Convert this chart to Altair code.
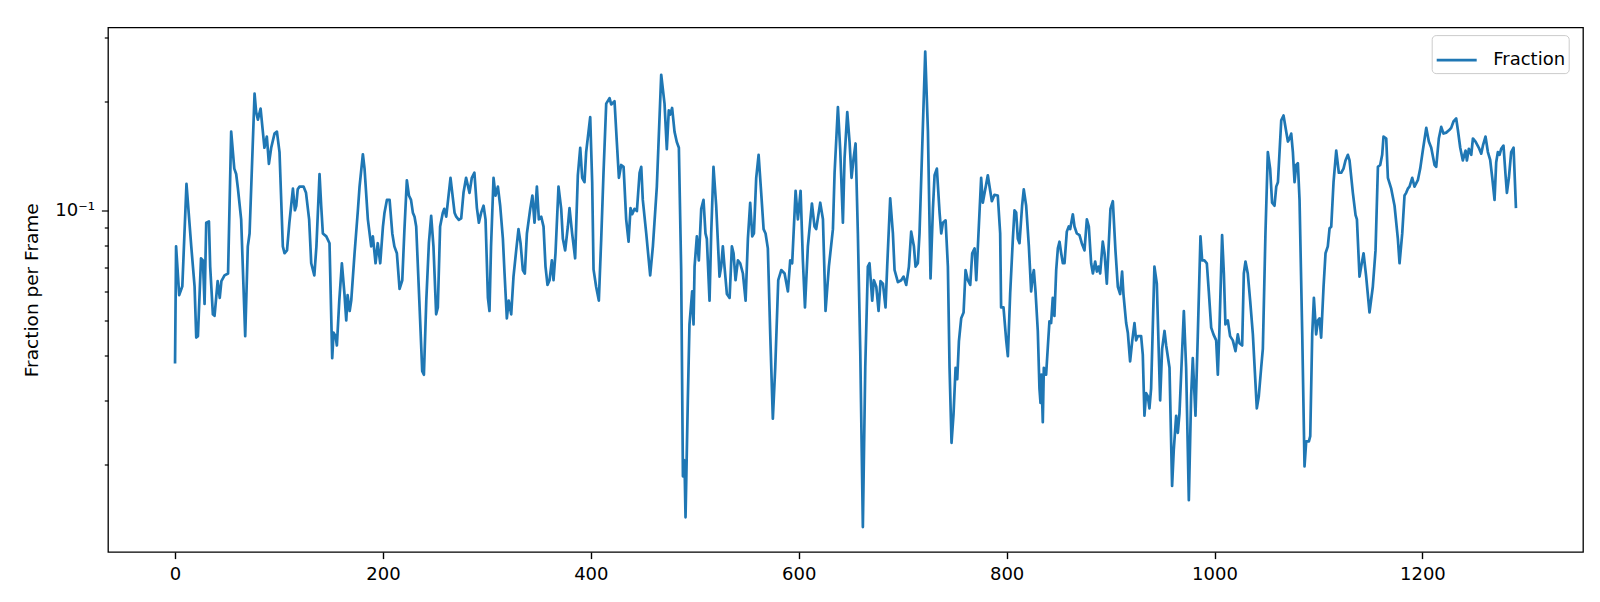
import altair as alt
import pandas as pd

# ---- data (frame, fraction per frame) ----
frames_1 = [0, 1, 4, 7, 11, 15.6, 18.8, 20.4, 22, 25, 26.8, 28.4, 30, 32.6, 33.8, 36.4, 38, 41, 43, 44.6,
            47.6, 51, 54, 57, 58.8, 60.5, 63.6, 67.5, 70, 71.7, 76.5, 78, 79.7, 82.3, 86, 88.3, 90.3, 92.5,
            95.7, 98, 100.5, 103.7, 105.3, 107.7, 110, 113.4, 115.3, 116.6, 118, 119.8, 123.6, 126, 129, 131,
            134, 136, 139, 140.6, 142.2, 145.5, 148.6, 151.2, 152.5, 154.4, 155.7, 158, 160.5, 163, 164.7,
            166, 168, 169.5, 172.7, 175.9, 177.5, 180.7, 182.3, 185.5, 188.7, 190.3, 192.9, 195, 197.4, 200,
            201.5, 203.8, 206.4, 209, 211, 213.4, 216, 218.6, 220.7, 223, 225, 227, 228.8, 230.4, 232, 235,
            237.8, 239.4, 241.7, 244.2, 246.4, 248.6, 251.2, 252.8, 255, 257.6, 259, 260.9, 265]
fraction_1 = [0.038, 0.0798, 0.0586, 0.062, 0.1185, 0.0798, 0.0618, 0.0448, 0.0452, 0.074, 0.073, 0.0554,
              0.0927, 0.0934, 0.0702, 0.0519, 0.0514, 0.064, 0.0576, 0.064, 0.0664, 0.0672, 0.165, 0.1306,
              0.1262, 0.115, 0.0947, 0.0452, 0.0798, 0.0866, 0.21, 0.187, 0.178, 0.191, 0.149, 0.16, 0.1346,
              0.149, 0.163, 0.165, 0.145, 0.0798, 0.0764, 0.0778, 0.0927, 0.115, 0.1003, 0.1032, 0.1145,
              0.1165, 0.1165, 0.112, 0.0947, 0.0717, 0.0664, 0.0798, 0.1262, 0.1032, 0.0866, 0.085, 0.0814,
              0.0393, 0.0462, 0.0452, 0.0426, 0.0566, 0.0717, 0.059, 0.0499, 0.0586, 0.053, 0.0566, 0.0764,
              0.1003, 0.1165, 0.143, 0.1306, 0.0947, 0.0798, 0.085, 0.0717, 0.0814, 0.0717, 0.0904, 0.0988,
              0.1071, 0.1071, 0.0866, 0.0798, 0.0764, 0.061, 0.0644, 0.089, 0.1213, 0.1101, 0.1071, 0.0988,
              0.0963, 0.0905, 0.0566, 0.0362, 0.0354, 0.0566, 0.0814, 0.0968, 0.0798, 0.0519, 0.0542, 0.0905,
              0.0988, 0.1012, 0.0963, 0.1232]

frames_2 = [268.9, 270.5, 273, 275.3, 277.5, 280, 283.3, 285.5, 288, 290.4, 292.3, 294.5, 296.8, 298.7, 301,
            302.5, 304, 306.4, 308.3, 310.6, 312.8, 315.4, 317, 319.2, 321, 323.4, 325.6, 328.2, 330.4, 332.4,
            334.6, 336.5, 338.5, 341.7, 343.8, 345.8, 348.1, 350, 352.3, 354.5, 356.4, 358.3, 360.3, 362.5,
            364.1, 366, 368.9, 371.5, 373.1, 375.3, 377.9, 379.5, 382, 384.9, 387.5, 389.8, 391.7, 393.9,
            395.5, 399.4, 401.3, 402.6, 405.1, 407.7, 410, 412.2, 414.8, 418, 419.6, 422.8, 425, 427, 429.2,
            431.5, 434, 436.3, 438.2, 439.8, 442, 444.3, 446.9, 448.5, 450, 453.3, 457.1, 459.7, 463.5, 467.7,
            470.9, 473.1, 475, 476.3, 478.2, 480.5, 482.7, 484.7, 486.9, 488.6, 490.1, 491.1, 493.3, 494.9,
            497.5, 498.8, 499.8, 502, 503.9, 506.2, 508.4, 510.3, 511.6, 514.2, 515.8, 518, 520.6, 523.8]
fraction_2 = [0.0988, 0.0963, 0.0944, 0.0953, 0.112, 0.1232, 0.112, 0.1232, 0.1272, 0.1017, 0.0927, 0.0988,
              0.1032, 0.0947, 0.0576, 0.053, 0.0798, 0.1232, 0.1101, 0.1165, 0.1032, 0.0837, 0.0672, 0.0506,
              0.0566, 0.0519, 0.0659, 0.0778, 0.089, 0.0814, 0.0687, 0.0672, 0.0866, 0.1012, 0.1101, 0.0927,
              0.1165, 0.0947, 0.0963, 0.0904, 0.0702, 0.0625, 0.0644, 0.073, 0.0644, 0.0764, 0.1165, 0.1012,
              0.0837, 0.0778, 0.0905, 0.1017, 0.0866, 0.074, 0.1252, 0.149, 0.1232, 0.1198, 0.145, 0.181,
              0.1198, 0.069, 0.0618, 0.0566, 0.0837, 0.1272, 0.197, 0.204, 0.196, 0.2, 0.1546, 0.1232, 0.1336,
              0.1321, 0.0947, 0.0822, 0.1017, 0.0978, 0.1012, 0.0998, 0.1272, 0.1321, 0.1071, 0.0866, 0.0664,
              0.0798, 0.1165, 0.2366, 0.197, 0.1476, 0.1887, 0.1838, 0.1917, 0.165, 0.1546, 0.149, 0.069,
              0.0186, 0.0206, 0.01435, 0.030, 0.0487, 0.06, 0.0487, 0.0702, 0.085, 0.073, 0.1012, 0.1071,
              0.0866, 0.0837, 0.0566, 0.0866, 0.1321, 0.1032, 0.0659]

frames_3 = [525.4, 527, 528.6, 530.9, 533.5, 535.7, 537.3, 539.2, 541.5, 543.7, 546.3, 548.9, 551.1, 553.3,
            555.3, 556.9, 559.1, 561.4, 563.9, 566.2, 568.1, 570.3, 572.6, 575.1, 577.4, 580.3, 583.2, 586.4,
            589.6, 591.8, 593.7, 597, 599.2, 601.8, 604, 606, 608.8, 612.7, 615.2, 616.8, 620.7, 623.3, 625.8,
            629, 632.9, 634.5, 637.7, 639.9, 642.5, 644.1, 646.7, 648.9, 650.8, 652.8, 654.7, 656.9, 659.2,
            661.7, 664, 666.5, 668.1, 670.7, 672.3, 674.6, 676.8, 678.7, 681, 683.5, 685.1, 688, 690.6, 692.2,
            695.4, 698.6, 700.9, 703.4, 706, 708.2, 710.8, 712.4, 714.6, 716.2, 721.7, 724.3, 726.8, 729.1,
            730.7, 732.9, 735.5, 737.1, 738.7, 741.3, 743.5, 745.1, 747, 748.9, 750.9, 752.5, 754.1, 756.3,
            758.6, 760.5, 762.7, 765, 766.9, 769.2, 770.8, 775.5]
fraction_3 = [0.0702, 0.0798, 0.0702, 0.059, 0.0576, 0.0798, 0.0764, 0.0644, 0.073, 0.0717, 0.0672, 0.0566,
              0.0837, 0.1052, 0.085, 0.0866, 0.1232, 0.1425, 0.112, 0.089, 0.0866, 0.0788, 0.0457, 0.0268,
              0.037, 0.0644, 0.0687, 0.0672, 0.06, 0.073, 0.0717, 0.1135, 0.0947, 0.1135, 0.073, 0.0542,
              0.0798, 0.1047, 0.0905, 0.089, 0.1052, 0.0947, 0.053, 0.0702, 0.089, 0.1272, 0.1927, 0.1476,
              0.0927, 0.1395, 0.1867, 0.1546, 0.1232, 0.1395, 0.1531, 0.0866, 0.0411, 0.01349, 0.037, 0.0702,
              0.0717, 0.0566, 0.0644, 0.0618, 0.053, 0.064, 0.063, 0.0542, 0.0702, 0.1081, 0.0866, 0.0687,
              0.0636, 0.0644, 0.0659, 0.0625, 0.0702, 0.0876, 0.0798, 0.0702, 0.0717, 0.0866, 0.274, 0.165,
              0.0651, 0.1012, 0.1252, 0.1306, 0.0988, 0.0866, 0.0927, 0.0941, 0.0702, 0.037, 0.023, 0.0275,
              0.037, 0.0344, 0.0437, 0.0506, 0.0525, 0.0687, 0.0644, 0.0625, 0.0764, 0.0788, 0.0644, 0.1232]

frames_4 = [777.1, 781.9, 783.5, 785.8, 788.3, 791.5, 793.8, 794.7, 797, 799.6, 801.2, 803.4, 806, 807.6,
            809.2, 810.8, 812.4, 814.9, 816.5, 818.8, 821.4, 823.6, 825.2, 826.2, 827.8, 830, 831.6, 832.6,
            833.5, 834.8, 835.8, 838, 839.6, 841.2, 842.8, 844.4, 846, 847.7, 849.3, 850.9, 852.5, 854.1,
            855.7, 857.9, 859.8, 861.1, 863.7, 865.3, 867.5, 870.1, 872.3, 874.9, 877.2, 879.1, 881.3, 883,
            885.2, 886.8, 888.4, 890, 892.5, 894.2, 896.4, 899.9, 902.2, 904.7, 907, 909.2, 911.1, 912.4, 915,
            916.6, 918.8, 920.8, 923, 924.6, 926.2, 929.4, 931, 932.6, 934.2, 935.8, 937.4, 939, 942.2, 944.5,
            947.7, 949.6, 951.9, 953.5, 956.7, 959.2, 960.8, 963.1, 964.7, 966.3, 970.5, 972.7, 975.3, 977.5,
            979.1, 981.7, 983.9, 986.5, 988.1, 990.3, 992.6, 994.5, 996.8, 999, 1001.6, 1003.2, 1004.8,
            1007.3, 1009, 1010.5, 1012.8, 1015, 1017.6, 1020.2, 1022.4, 1024, 1026.6, 1028.2, 1029.8, 1032,
            1034.3, 1036.9, 1040.7, 1042.6, 1044.9, 1046.5, 1049, 1051.3, 1053.5, 1055.4, 1057.7]
fraction_4 = [0.1052, 0.1252, 0.117, 0.1062, 0.1106, 0.1101, 0.0866, 0.0542, 0.0542, 0.044, 0.0398, 0.059,
              0.0837, 0.1003, 0.0988, 0.0837, 0.0814, 0.1032, 0.1145, 0.1032, 0.0798, 0.06, 0.0664, 0.0687,
              0.06, 0.0467, 0.0324, 0.0296, 0.0354, 0.0262, 0.037, 0.0354, 0.042, 0.0496, 0.0491, 0.0576,
              0.0514, 0.0687, 0.0788, 0.0822, 0.0764, 0.0717, 0.0717, 0.0876, 0.0905, 0.089, 0.0978, 0.0905,
              0.0866, 0.0857, 0.0814, 0.0778, 0.0947, 0.0905, 0.0717, 0.0672, 0.0725, 0.068, 0.0702, 0.0672,
              0.0822, 0.0764, 0.063, 0.1012, 0.1062, 0.0778, 0.0618, 0.059, 0.068, 0.059, 0.0491, 0.0462,
              0.0385, 0.0437, 0.0491, 0.044, 0.0452, 0.0452, 0.0402, 0.0273, 0.0315, 0.0309, 0.0286, 0.0324,
              0.0702, 0.063, 0.0301, 0.0417, 0.0467, 0.0426, 0.037, 0.0175, 0.022, 0.0273, 0.0245, 0.0277,
              0.053, 0.037, 0.016, 0.0309, 0.0393, 0.0273, 0.0452, 0.085, 0.073, 0.073, 0.0717, 0.06, 0.0477,
              0.0457, 0.044, 0.0354, 0.0477, 0.0857, 0.0672, 0.0487, 0.0499, 0.0452, 0.044, 0.0411, 0.0457,
              0.0432, 0.0426, 0.0672, 0.0725, 0.0672, 0.0566, 0.0457, 0.0286, 0.0309, 0.037, 0.0417, 0.0866,
              0.145, 0.1306, 0.1052, 0.1032]

frames_5 = [1059.4, 1061, 1064.2, 1066.4, 1069, 1070.6, 1072.2, 1073.8, 1075.4, 1077, 1078.6, 1080.2, 1081.8,
            1084.4, 1086.6, 1088.2, 1090.8, 1092.1, 1094, 1095.6, 1097.8, 1099.4, 1101, 1102.6, 1104.9, 1106.8,
            1109, 1110.7, 1112.3, 1114.5, 1117.1, 1119.6, 1121.9, 1124.1, 1126, 1128.3, 1129.9, 1133.1, 1135.7,
            1137, 1139.5, 1141.1, 1143.4, 1145.9, 1149.1, 1152.3, 1154.9, 1157.2, 1159.4, 1161.3, 1162.6,
            1165.2, 1166.8, 1170, 1173.2, 1176.4, 1178, 1180.6, 1182.8, 1184.4, 1186, 1187.6, 1190.2, 1192.4,
            1195.6, 1197.9, 1200.4, 1203.7, 1206.2, 1208.5, 1211.7, 1213.3, 1215.8, 1218.1, 1220.3, 1222.9,
            1226.1, 1227.7, 1229.9, 1232.5, 1234.1, 1236.4, 1238.9, 1241.5, 1242.8, 1244.7, 1247, 1248.6,
            1251.1, 1254.3, 1256.6, 1258.2, 1260.7, 1263, 1265.2, 1267.2, 1269.4, 1271, 1272.6, 1274.2, 1275.8,
            1278, 1280, 1281.3, 1283.2, 1285.4, 1287.7, 1290]
fraction_5 = [0.1165, 0.1198, 0.1773, 0.1828, 0.165, 0.155, 0.158, 0.163, 0.145, 0.1198, 0.1336, 0.1351,
              0.1071, 0.0457, 0.0198, 0.0232, 0.0232, 0.024, 0.0457, 0.0576, 0.0457, 0.0499, 0.0506, 0.0448,
              0.0618, 0.0764, 0.0798, 0.0895, 0.0904, 0.1198, 0.1464, 0.1272, 0.1272, 0.1306, 0.1375, 0.1425,
              0.1375, 0.112, 0.0973, 0.0947, 0.0659, 0.0702, 0.0764, 0.0659, 0.0525, 0.0618, 0.0778, 0.1321,
              0.1336, 0.1425, 0.16, 0.158, 0.1232, 0.115, 0.1032, 0.0837, 0.0717, 0.0866, 0.1101, 0.112, 0.115,
              0.1165, 0.1232, 0.1165, 0.1213, 0.1306, 0.1464, 0.169, 0.155, 0.149, 0.1336, 0.1321, 0.158, 0.17,
              0.163, 0.164, 0.167, 0.169, 0.176, 0.1793, 0.167, 0.149, 0.1375, 0.1464, 0.1375, 0.148, 0.1425,
              0.158, 0.155, 0.149, 0.1435, 0.151, 0.16, 0.145, 0.138, 0.1232, 0.1071, 0.136, 0.145, 0.1425,
              0.148, 0.151, 0.1252, 0.112, 0.1232, 0.145, 0.149, 0.1017]

series_name = "Fraction"
x_ticks = [0, 200, 400, 600, 800, 1000, 1200]
y_ticks = [0.02, 0.03, 0.04, 0.05, 0.06, 0.07, 0.08, 0.09, 0.1, 0.2, 0.3]
y_title = "Fraction per Frame"

frames = frames_1 + frames_2 + frames_3 + frames_4 + frames_5
fraction = fraction_1 + fraction_2 + fraction_3 + fraction_4 + fraction_5
df = pd.DataFrame({"frame": frames, "fraction": fraction, "series": series_name})

FONT = "DejaVu Sans"
FS = 18
LINE = "#1f77b4"

chart = alt.Chart(df).mark_line(strokeWidth=2.7, strokeJoin="round").encode(
    x=alt.X(
        "frame:Q",
        scale=alt.Scale(domain=[-64.5, 1354.5], nice=False, zero=False),
        axis=alt.Axis(
            values=x_ticks, title=None, grid=False, domain=False, format="d",
            tickSize=6.6, tickWidth=1.4, tickColor="black",
            labelPadding=7, labelFontSize=FS, labelFont=FONT, labelColor="black",
        ),
    ),
    y=alt.Y(
        "fraction:Q",
        scale=alt.Scale(type="log", domain=[0.01152, 0.3191], nice=False, zero=False),
        axis=alt.Axis(
            values=y_ticks, title=y_title, grid=False, domain=False,
            labelExpr="datum.value == 0.1 ? '10⁻¹' : ''",
            tickSize={"condition": {"test": "datum.value == 0.1", "value": 6.6}, "value": 3.7},
            tickWidth=1.2, tickColor="black",
            labelPadding=7, labelFontSize=FS, labelFont=FONT, labelColor="black",
            titleFont=FONT, titleFontSize=18.5, titleFontWeight="normal", titleColor="black",
            titleX=-76.4, titleY=262.25, titleAngle=270, titleAlign="center", titleBaseline="middle",
        ),
    ),
    color=alt.Color(
        "series:N",
        scale=alt.Scale(range=[LINE]),
        legend=alt.Legend(
            title=None, orient="none", legendX=1323.7, legendY=7.6,
            symbolType="stroke", symbolSize=1600, symbolStrokeWidth=2.7,
            labelFont=FONT, labelFontSize=FS, labelColor="black", labelOffset=15,
            padding=3.5, strokeColor="#cccccc", fillColor="white", cornerRadius=4,
        ),
    ),
).properties(
    width=1475,
    height=524.5,
    autosize=alt.AutoSizeParams(type="none"),
    padding={"left": 100, "top": 19.5, "right": 8, "bottom": 40},
).configure_view(
    stroke="black", strokeWidth=1.3
)

chart.save("out.html", embed_options={"renderer": "svg", "actions": False})
